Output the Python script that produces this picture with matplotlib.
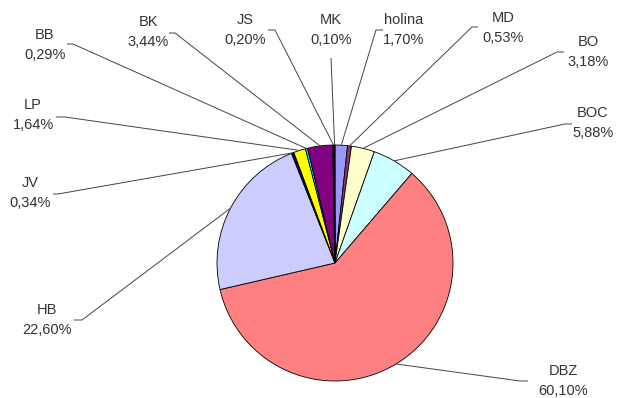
import numpy as np
import matplotlib
matplotlib.use("Agg")
import matplotlib.pyplot as plt

plt.rcParams["font.family"] = ["Liberation Sans", "DejaVu Sans"]

# data, clockwise from 12 o'clock
names = ["holina", "MD", "BO", "BOC", "DBZ", "HB", "JV", "LP", "BB", "BK", "JS", "MK"]
pcts = [1.70, 0.53, 3.18, 5.88, 60.10, 22.60, 0.34, 1.64, 0.29, 3.44, 0.20, 0.10]
colors = ["#9999FF", "#993366", "#FFFFCC", "#CCFFFF", "#FF8080", "#CCCCFF",
          "#000080", "#FFFF00", "#00FFFF", "#800080", "#800000", "#008080"]

# layout (pixels of the 618x398 image): label centre, leader bend, tick length
CX, CY, R = 335, 263, 118
lab_px = [(404, 20), (503, 18), (588, 42), (593, 113), (563, 371), (47, 310),
          (30, 183), (33, 105), (45, 35), (148, 22), (245, 20), (331, 20)]
bend_px = [(376, 30), (472, 27), (557, 52), (565, 124), (520, 381), (82, 320),
           (58, 194), (65, 117), (73, 44), (175, 33), (275, 30), (331, 58)]
tick_px = [7, 6, 7, 7, 8, -8, -5, -9, -6, -6, -7, 0]


def to_data(px, py):
    return (px - CX) / R, (CY - py) / R


fig = plt.figure(figsize=(6.18, 3.98), dpi=100)
ax = fig.add_axes([0, 0, 1, 1])
ax.pie(pcts, colors=colors, startangle=90, counterclock=False, radius=1,
       wedgeprops=dict(edgecolor="black", linewidth=0.6))
ax.set_xlim(-CX / R, (618 - CX) / R)
ax.set_ylim(-(398 - CY) / R, CY / R)
ax.set_aspect("equal")
ax.axis("off")

cum = np.cumsum([0] + pcts[:-1])
for i, name in enumerate(names):
    th = np.deg2rad(90 - 3.6 * (cum[i] + pcts[i] / 2))
    ex, ey = np.cos(th), np.sin(th)
    bx, by = to_data(*bend_px[i])
    tx, ty = to_data(bend_px[i][0] + tick_px[i], bend_px[i][1])
    ax.plot([tx, bx, ex], [ty, by, ey], color="#444444", lw=0.7,
            solid_capstyle="butt")
    lx, ly = to_data(*lab_px[i])
    ax.text(lx, ly, name, ha="center", va="center", fontsize=10.5, color="#333333")
    lx2, ly2 = to_data(lab_px[i][0], lab_px[i][1] + 20)
    ax.text(lx2, ly2, f"{pcts[i]:.2f}".replace(".", ",") + "%",
            ha="center", va="center", fontsize=10.5, color="#333333")

fig.savefig("out.png", dpi=100)
